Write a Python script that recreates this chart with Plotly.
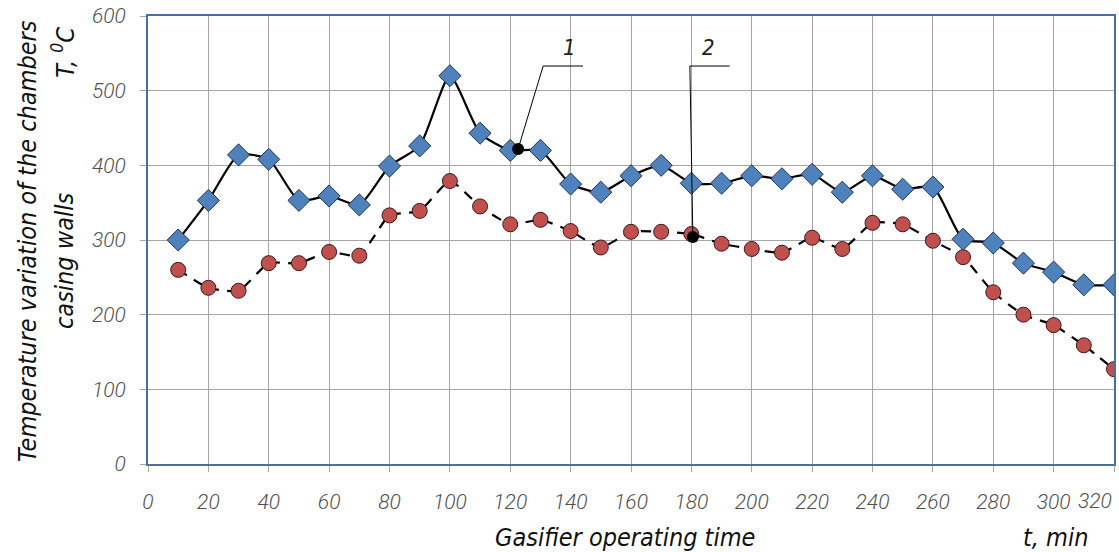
import plotly.graph_objects as go

time_min = [10, 20, 30, 40, 50, 60, 70, 80, 90, 100, 110, 120, 130, 140, 150, 160,
            170, 180, 190, 200, 210, 220, 230, 240, 250, 260, 270, 280, 290, 300, 310, 320]
temp_1 = [300, 353, 414, 408, 353, 359, 347, 399, 426, 520, 443, 420, 420, 375, 364, 386,
          400, 376, 376, 386, 382, 388, 364, 386, 368, 371, 301, 296, 269, 257, 240, 240]
temp_2 = [260, 236, 232, 269, 269, 284, 279, 333, 339, 379, 345, 321, 327, 312, 290, 311,
          311, 308, 295, 288, 283, 303, 288, 323, 321, 299, 277, 230, 200, 186, 159, 127]

x_ticks = list(range(0, 321, 20))
y_ticks = list(range(0, 601, 100))
x_tick_labels = [str(v) for v in x_ticks]
y_tick_labels = [str(v) for v in y_ticks]

# callouts: label, dot point, bend point, end of shelf
callout_labels = ["1", "2"]
callout_dot_x = [122.6, 180.5]
callout_dot_y = [422, 304]
callout_bend_x = [130.9, 179.5]
callout_bend_y = [533, 533]
callout_end_x = [144.1, 192.7]
callout_label_x = [139.5, 185.8]
callout_label_y = [558, 558]

title_fam = "DejaVu Sans Condensed"
tick_fam = "Roboto"
tick_font = dict(family=tick_fam, size=21, color="#505050", style="italic", weight=300)
fig = go.Figure()

fig.add_trace(go.Scatter(
    x=time_min, y=temp_2, mode="lines+markers",
    line=dict(color="black", width=2.2, dash="10px,8px", shape="spline", smoothing=0.5),
    marker=dict(symbol="circle", size=15, color="#C0504D", line=dict(color="#3a1a1a", width=1)),
    showlegend=False))
fig.add_trace(go.Scatter(
    x=time_min, y=temp_1, mode="lines+markers",
    line=dict(color="black", width=2.2, shape="spline", smoothing=0.6),
    marker=dict(symbol="diamond", size=17, color="#4F81BD", line=dict(color="#1f3555", width=1)),
    showlegend=False))

for i in range(len(callout_labels)):
    fig.add_trace(go.Scatter(
        x=[callout_dot_x[i], callout_bend_x[i], callout_end_x[i]],
        y=[callout_dot_y[i], callout_bend_y[i], callout_bend_y[i]],
        mode="lines", line=dict(color="black", width=1), showlegend=False, hoverinfo="skip"))
    fig.add_trace(go.Scatter(
        x=[callout_dot_x[i]], y=[callout_dot_y[i]], mode="markers",
        marker=dict(symbol="circle", size=12, color="black"), showlegend=False))
    fig.add_annotation(x=callout_label_x[i], y=callout_label_y[i], text=callout_labels[i],
                       showarrow=False,
                       font=dict(family=title_fam, size=22, color="#222222", style="italic"))

axis_common = dict(showgrid=True, gridcolor="#A6A6A6", gridwidth=1.3,
                   showline=True, linecolor="#4A6FA5", linewidth=2, mirror=True,
                   ticks="outside", ticklen=6, tickcolor="#A6A6A6", zeroline=False,
                   tickfont=tick_font)

# last x label is drawn right-aligned at the axis end so it stays inside the page
fig.update_xaxes(range=[0, 320], tickvals=x_ticks, ticktext=x_tick_labels[:-1] + [""],
                 ticklabelstandoff=12, **axis_common)
fig.update_yaxes(range=[0, 600], tickvals=y_ticks, ticktext=y_tick_labels,
                 ticklabelstandoff=10, **axis_common)
fig.add_annotation(x=x_ticks[-1], xref="x", yref="paper", y=-0.082, xanchor="right",
                   yanchor="middle", showarrow=False, text=x_tick_labels[-1], font=tick_font)

title_font = dict(family=title_fam, size=25, color="#111111", style="italic")
fig.add_annotation(xref="paper", yref="paper", x=-0.124, y=0.498, xanchor="center", yanchor="middle",
                   textangle=-90, showarrow=False, text="Temperature variation of the chambers",
                   font=title_font)
fig.add_annotation(xref="paper", yref="paper", x=-0.087, y=0.453, xanchor="center", yanchor="middle",
                   textangle=-90, showarrow=False, text="casing walls", font=title_font)
fig.add_annotation(xref="paper", yref="paper", x=-0.087, y=0.92, xanchor="center", yanchor="middle",
                   textangle=-90, showarrow=False, text="T, <sup>0</sup>C", font=title_font)
fig.add_annotation(xref="paper", yref="paper", x=0.494, y=-0.163, xanchor="center", yanchor="middle",
                   showarrow=False, text="Gasifier operating time", font=title_font)
fig.add_annotation(xref="paper", yref="paper", x=0.94, y=-0.163, xanchor="center", yanchor="middle",
                   showarrow=False, text="t, min", font=title_font)

fig.update_layout(width=1119, height=552, margin=dict(l=148, r=3, t=16, b=88),
                  plot_bgcolor="white", paper_bgcolor="white")

fig.write_html("out.html", config={"displayModeBar": False},
               post_script="document.body.style.margin='0';document.body.style.overflow='hidden';")
